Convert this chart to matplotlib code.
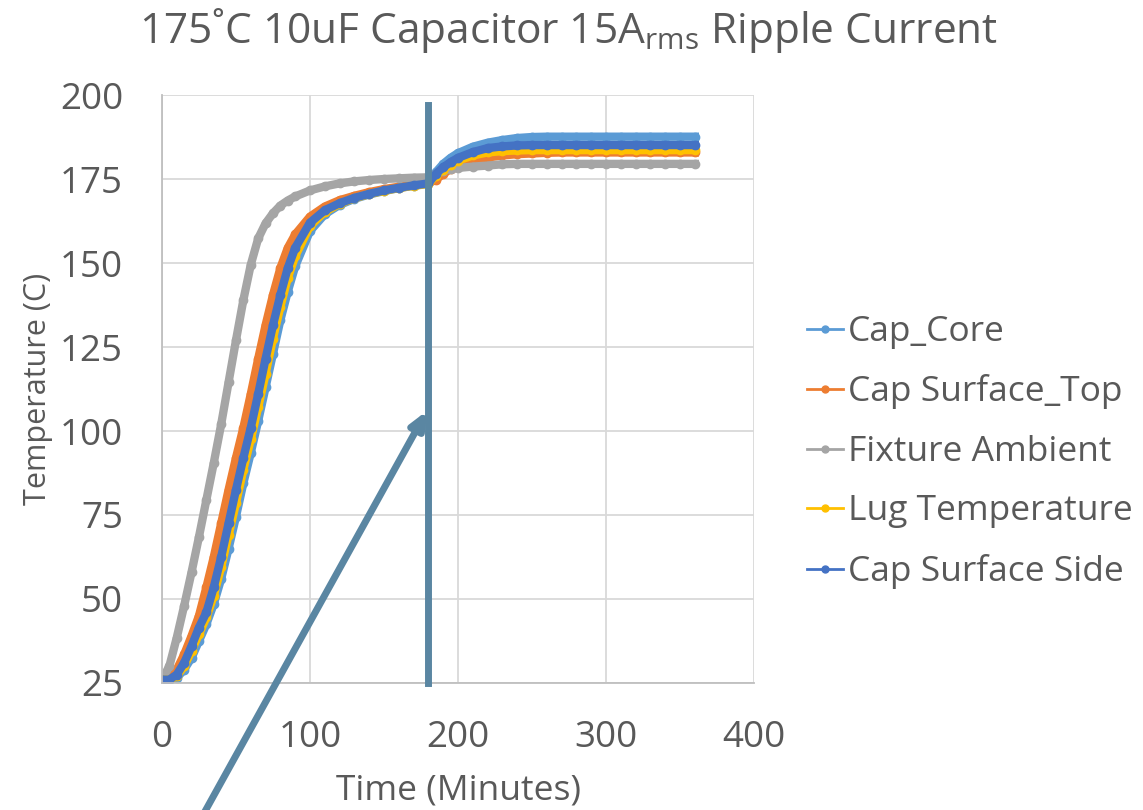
import matplotlib.pyplot as plt

plt.rcParams['font.family'] = ['Open Sans', 'DejaVu Sans']
plt.rcParams['mathtext.fontset'] = 'custom'
plt.rcParams['mathtext.rm'] = 'Open Sans'

# time in minutes, temperatures
minutes = [0, 5, 10, 15, 20, 25, 30, 35, 40, 45, 50, 55, 60, 65, 70, 75, 80, 85, 90,
           100, 110, 120, 130, 140, 150, 160, 170, 180,
           185, 190, 195,
           200, 210, 220, 230, 240, 250, 260, 270, 280, 290, 300, 310, 320, 330, 340, 350, 360]

cap_core = [26, 26, 26.5, 29, 32.5, 37.5, 42.5, 48.5, 56, 65, 74.5, 84.5, 93.5, 103, 113, 123, 133, 141.5, 149,
            159.5, 164.5, 167.3, 169.1, 170.4, 171.4, 172.3, 173, 173.6,
            177, 179.5, 181.3,
            182.7, 184.6, 185.8, 186.6, 187.2, 187.5, 187.6, 187.6, 187.6, 187.6, 187.6, 187.6, 187.6, 187.6, 187.6, 187.6, 187.6]

cap_top = [26, 26.5, 29, 33.5, 39, 45, 53.5, 62.5, 72.5, 82.5, 92, 101, 111, 121.5, 131.5, 140.5, 148.5, 154.5, 158.5,
           163.8, 166.8, 168.7, 170, 171.1, 172, 172.7, 173.3, 173.7,
           174.8, 176.5, 178,
           179.2, 180.5, 181.4, 182, 182.4, 182.6, 182.8, 182.9, 182.9, 182.9, 182.9, 182.9, 182.9, 182.9, 182.9, 182.9, 182.9]

fixture = [26, 30, 38.5, 48, 58, 68.5, 79.5, 90.5, 102, 114.5, 127, 139, 149.5, 157.3, 161.8, 164.8, 167.1, 168.6, 169.8,
           171.6, 172.8, 173.7, 174.3, 174.7, 175, 175.2, 175.4, 175.5,
           176.5, 177.5, 178,
           178.3, 178.7, 179, 179.4, 179.5, 179.5, 179.5, 179.5, 179.5, 179.5, 179.5, 179.5, 179.5, 179.5, 179.5, 179.5, 179.5]

lug = [26, 26, 27, 30, 34.5, 39.5, 44.5, 51, 59.5, 69, 78.5, 88.5, 97.5, 107, 117, 127.5, 137, 145.5, 152,
       161, 165.2, 167.6, 169.3, 170.5, 171.5, 172.3, 173, 173.5,
       176, 177.8, 179.3,
       180.5, 182, 182.9, 183.3, 183.5, 183.6, 183.6, 183.6, 183.6, 183.6, 183.6, 183.6, 183.6, 183.6, 183.6, 183.6, 183.6]

cap_side = [26, 26, 27.5, 31, 36, 41.5, 46, 53.5, 62.5, 72.5, 82.5, 92, 101, 111, 121.5, 131.5, 140.5, 148.5, 154.5,
            162, 165.7, 167.8, 169.4, 170.6, 171.6, 172.4, 173.1, 173.7,
            176.5, 178.5, 180,
            181.3, 183, 184.2, 184.7, 185, 185.1, 185.1, 185.1, 185.1, 185.1, 185.1, 185.1, 185.1, 185.1, 185.1, 185.1, 185.1]

names = ['Cap_Core', 'Cap Surface_Top', 'Fixture Ambient', 'Lug Temperature', 'Cap Surface Side']
colors = ['#5b9bd5', '#ed7d31', '#a5a5a5', '#ffc000', '#4472c4']
series = [cap_core, cap_top, fixture, lug, cap_side]

marker_time = 180
arrow_tip = 106

txt = '#595959'
fig = plt.figure(figsize=(11.43, 8.1), dpi=100)
ax = fig.add_axes([0.1417, 0.1568, 0.518, 0.7259])

for name, c, vals in zip(names, colors, series):
    ax.plot(minutes, vals, color=c, lw=6, marker='o', ms=6, mec=c, label=name)

ax.set_xlim(0, 400)
ax.set_ylim(25, 200)
ax.set_xticks([0, 100, 200, 300, 400])
ax.set_yticks([25, 50, 75, 100, 125, 150, 175, 200])
ax.grid(True, color='#d9d9d9', lw=1.3)
ax.set_axisbelow(True)
for s in ['top', 'right']:
    ax.spines[s].set_visible(False)
for s in ['left', 'bottom']:
    ax.spines[s].set_color('#bfbfbf')
    ax.spines[s].set_linewidth(1.3)
ax.tick_params(length=0, labelsize=26.5, labelcolor=txt)
ax.tick_params(axis='x', pad=27)
ax.tick_params(axis='y', pad=28)
ax.set_xlabel('Time (Minutes)', fontsize=25.5, color=txt, labelpad=12)
ax.set_ylabel('Temperature (C)', fontsize=22, color=txt, labelpad=5)

fig.text(0.497, 0.962, '175˚C 10uF Capacitor 15A$_{\\mathrm{rms}}$ Ripple Current',
         ha='center', va='center', fontsize=30.5, color=txt)

# annotation line and arrow
ax.plot([marker_time, marker_time], [25, 197], color='#5a86a2', lw=5, clip_on=False, zorder=5)
ax.annotate('', xy=(marker_time - 1, arrow_tip), xycoords='data',
            xytext=(203, -5), textcoords='figure pixels',
            arrowprops=dict(arrowstyle='-|>,head_length=0.5,head_width=0.22', color='#5a86a2',
                            lw=5, mutation_scale=20, shrinkA=0, shrinkB=0),
            annotation_clip=False, zorder=5)

leg = fig.legend(loc='center left', bbox_to_anchor=(0.678, 0.442), frameon=False,
                 fontsize=25.5, handlelength=1.02, handletextpad=0.14, labelspacing=0.72)
for h in leg.legend_handles:
    h.set_linewidth(2)
    h.set_markersize(5)
for t in leg.get_texts():
    t.set_color(txt)

fig.savefig('out.png', dpi=100)
